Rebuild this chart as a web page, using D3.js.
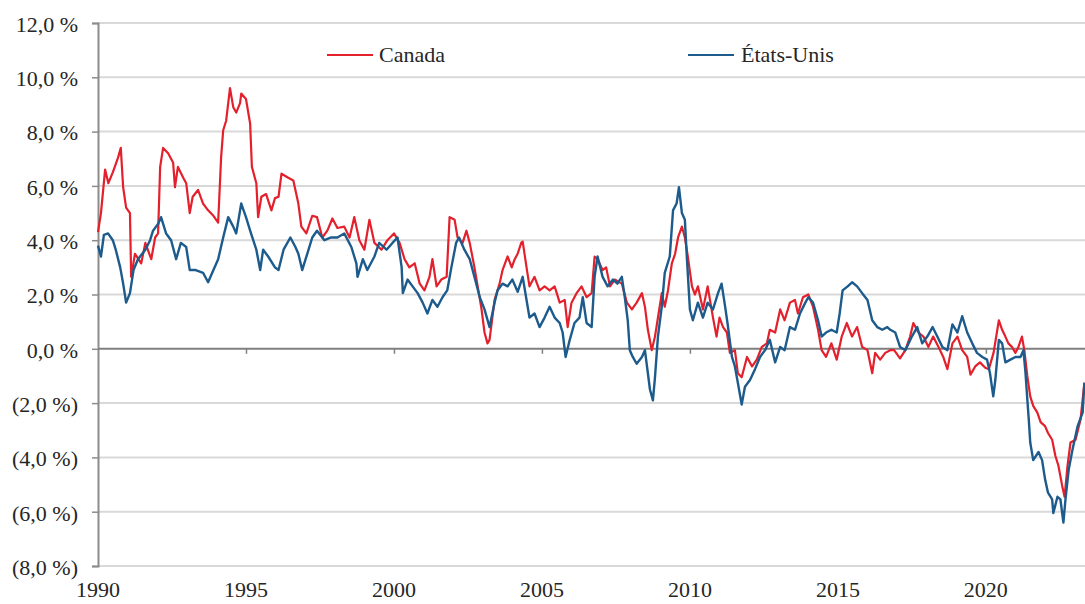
<!DOCTYPE html>
<html>
<head>
<meta charset="utf-8">
<script src="https://cdn.jsdelivr.net/npm/d3@7"></script>
<style>
html,body{margin:0;padding:0;background:#fff;}
svg{display:block;}
</style>
</head>
<body>
<svg id="chart" width="1085" height="604"></svg>
<script>
// ---- Data ----
const seriesNames = ["Canada", "États-Unis"];
const yTickValues = [12, 10, 8, 6, 4, 2, 0, -2, -4, -6, -8];
const xTickValues = [1990, 1995, 2000, 2005, 2010, 2015, 2020];

const canadaDates = [1990.0,1990.1,1990.24,1990.35,1990.5,1990.68,1990.77,1990.85,1990.95,1991.08,1991.12,1991.25,1991.46,1991.6,1991.8,1991.93,1992.03,1992.1,1992.2,1992.37,1992.54,1992.6,1992.7,1992.88,1992.98,1993.1,1993.2,1993.38,1993.55,1993.72,1993.9,1994.06,1994.16,1994.23,1994.33,1994.46,1994.57,1994.67,1994.8,1994.84,1995.0,1995.14,1995.2,1995.35,1995.41,1995.52,1995.68,1995.86,1995.98,1996.1,1996.2,1996.43,1996.6,1996.77,1996.87,1997.04,1997.24,1997.4,1997.58,1997.75,1997.92,1998.09,1998.32,1998.5,1998.66,1998.83,1999.0,1999.17,1999.34,1999.58,1999.78,2000.0,2000.19,2000.36,2000.52,2000.7,2000.87,2001.03,2001.2,2001.3,2001.44,2001.6,2001.78,2001.88,2002.05,2002.15,2002.32,2002.45,2002.56,2002.72,2002.83,2002.96,2003.06,2003.16,2003.23,2003.4,2003.57,2003.67,2003.84,2003.98,2004.08,2004.18,2004.3,2004.35,2004.48,2004.58,2004.75,2004.92,2005.09,2005.26,2005.43,2005.6,2005.77,2005.87,2006.0,2006.17,2006.34,2006.51,2006.68,2006.78,2006.88,2007.05,2007.17,2007.3,2007.46,2007.7,2007.87,2008.04,2008.2,2008.38,2008.48,2008.58,2008.71,2008.82,2008.92,2009.05,2009.15,2009.26,2009.39,2009.5,2009.6,2009.73,2009.83,2009.93,2010.07,2010.17,2010.27,2010.44,2010.6,2010.78,2010.9,2011.0,2011.12,2011.25,2011.35,2011.52,2011.62,2011.75,2011.93,2012.1,2012.26,2012.43,2012.6,2012.7,2012.88,2013.05,2013.2,2013.38,2013.55,2013.65,2013.82,2014.0,2014.16,2014.33,2014.45,2014.6,2014.78,2014.96,2015.13,2015.3,2015.48,2015.65,2015.82,2016.0,2016.16,2016.26,2016.43,2016.6,2016.77,2016.9,2017.1,2017.28,2017.44,2017.55,2017.72,2017.89,2018.06,2018.22,2018.4,2018.56,2018.7,2018.87,2019.04,2019.2,2019.37,2019.48,2019.64,2019.8,2019.98,2020.1,2020.26,2020.44,2020.55,2020.66,2020.76,2020.88,2021.0,2021.1,2021.22,2021.3,2021.4,2021.5,2021.6,2021.74,2021.85,2022.0,2022.1,2022.24,2022.35,2022.45,2022.58,2022.66,2022.76,2022.86,2023.03,2023.2,2023.33];
const canadaValues = [4.3,5.0,6.6,6.1,6.5,7.05,7.4,5.95,5.2,5.0,2.65,3.5,3.15,3.9,3.3,4.1,4.25,6.7,7.4,7.2,6.85,5.95,6.7,6.3,6.1,5.0,5.6,5.85,5.35,5.1,4.9,4.65,7.05,8.05,8.4,9.6,8.9,8.7,9.05,9.4,9.2,8.3,6.7,6.1,4.85,5.6,5.7,5.1,5.55,5.6,6.45,6.3,6.2,5.35,4.5,4.25,4.9,4.85,4.1,4.35,4.8,4.45,4.5,4.1,4.85,4.0,3.65,4.75,3.9,3.65,4.0,4.25,3.9,3.3,3.0,3.15,2.4,2.15,2.65,3.3,2.3,2.55,2.65,4.85,4.75,4.1,3.9,4.35,3.9,3.0,2.3,1.45,0.6,0.2,0.33,1.8,2.4,2.9,3.4,3.0,3.3,3.5,3.9,3.95,3.0,2.3,2.65,2.15,2.3,2.15,2.3,1.7,1.8,0.8,1.7,2.05,2.3,1.9,2.05,3.4,3.3,2.9,3.0,2.3,2.55,2.4,1.7,1.45,1.7,2.05,1.55,0.7,-0.05,0.45,1.15,2.05,1.55,2.15,3.15,3.5,4.1,4.5,4.1,3.4,2.3,2.0,2.3,1.45,2.3,1.15,0.45,1.15,0.8,0.6,-0.15,-0.05,-0.9,-1.05,-0.3,-0.65,-0.4,0.07,0.2,0.7,0.6,1.45,1.05,1.7,1.8,1.3,1.9,2.0,1.55,0.7,-0.05,-0.3,0.2,-0.4,0.45,0.95,0.45,0.8,0.07,-0.05,-0.9,-0.15,-0.4,-0.15,-0.05,-0.05,-0.35,-0.05,0.45,0.95,0.6,0.45,0.07,0.45,0.07,-0.3,-0.75,0.2,0.45,-0.05,-0.3,-0.95,-0.65,-0.5,-0.7,-0.75,-0.15,1.05,0.7,0.45,0.2,0.07,-0.15,0.07,0.45,-0.05,-1.0,-1.75,-2.1,-2.35,-2.7,-2.85,-3.1,-3.35,-3.95,-4.3,-5.05,-5.45,-4.3,-3.45,-3.35,-2.6,-1.25];

const usDates = [1990.0,1990.1,1990.2,1990.34,1990.5,1990.6,1990.75,1990.85,1990.95,1991.08,1991.2,1991.35,1991.6,1991.76,1991.86,1992.03,1992.13,1992.3,1992.47,1992.64,1992.8,1992.98,1993.1,1993.3,1993.55,1993.72,1993.9,1994.06,1994.23,1994.4,1994.57,1994.67,1994.84,1995.0,1995.17,1995.35,1995.48,1995.58,1995.75,1995.98,1996.1,1996.27,1996.5,1996.67,1996.77,1996.9,1997.07,1997.24,1997.4,1997.65,1997.88,1998.09,1998.32,1998.56,1998.73,1998.77,1998.95,1999.1,1999.34,1999.5,1999.75,1999.95,2000.12,2000.26,2000.3,2000.46,2000.63,2000.8,2000.97,2001.13,2001.3,2001.47,2001.64,2001.8,2001.94,2002.1,2002.2,2002.38,2002.56,2002.72,2002.9,2003.06,2003.23,2003.4,2003.5,2003.67,2003.84,2004.0,2004.18,2004.35,2004.48,2004.58,2004.75,2004.92,2005.09,2005.26,2005.43,2005.6,2005.7,2005.8,2005.94,2006.1,2006.27,2006.38,2006.51,2006.68,2006.78,2006.88,2007.05,2007.22,2007.4,2007.55,2007.7,2007.8,2007.9,2007.97,2008.07,2008.2,2008.38,2008.48,2008.58,2008.65,2008.75,2008.82,2008.92,2009.05,2009.15,2009.32,2009.43,2009.55,2009.63,2009.73,2009.83,2009.9,2010.0,2010.1,2010.27,2010.44,2010.6,2010.78,2010.95,2011.07,2011.17,2011.27,2011.42,2011.52,2011.62,2011.75,2011.86,2012.03,2012.2,2012.37,2012.54,2012.7,2012.88,2013.05,2013.2,2013.38,2013.55,2013.72,2013.9,2014.0,2014.16,2014.33,2014.45,2014.6,2014.78,2014.96,2015.06,2015.16,2015.33,2015.48,2015.65,2015.82,2016.0,2016.16,2016.33,2016.5,2016.67,2016.77,2016.94,2017.1,2017.28,2017.5,2017.68,2017.85,2018.02,2018.2,2018.36,2018.53,2018.7,2018.87,2019.04,2019.2,2019.37,2019.54,2019.7,2019.88,2020.04,2020.14,2020.25,2020.32,2020.44,2020.55,2020.66,2020.83,2021.0,2021.17,2021.27,2021.34,2021.4,2021.45,2021.5,2021.6,2021.78,2021.9,2022.0,2022.1,2022.24,2022.28,2022.42,2022.52,2022.62,2022.69,2022.8,2022.93,2023.1,2023.27,2023.33];
const usValues = [3.8,3.4,4.2,4.25,4.0,3.65,3.0,2.4,1.7,2.05,2.9,3.3,3.65,4.0,4.35,4.6,4.85,4.25,4.0,3.3,3.9,3.75,2.9,2.9,2.8,2.45,2.9,3.3,4.1,4.85,4.5,4.25,5.35,4.85,4.25,3.65,2.9,3.65,3.4,3.0,2.9,3.65,4.1,3.75,3.5,2.9,3.5,4.1,4.35,4.0,4.1,4.1,4.25,3.75,3.15,2.65,3.3,2.9,3.4,3.9,3.65,3.9,4.1,3.0,2.05,2.55,2.3,2.05,1.7,1.3,1.8,1.55,1.9,2.15,3.0,3.9,4.1,3.65,3.3,2.65,1.9,1.45,0.8,1.7,2.15,2.4,2.3,2.55,2.1,2.65,1.8,1.15,1.3,0.8,1.15,1.55,1.15,0.95,0.6,-0.3,0.33,0.95,1.15,1.9,0.95,0.8,2.65,3.4,2.65,2.3,2.55,2.4,2.65,1.9,1.05,-0.05,-0.3,-0.55,-0.3,-0.05,-0.9,-1.5,-1.9,-1.05,0.45,1.55,2.8,3.4,5.1,5.35,5.95,5.0,4.75,3.3,1.45,1.05,1.7,1.15,1.7,1.45,2.05,2.4,1.7,0.95,-0.3,-0.65,-1.25,-2.05,-1.4,-1.15,-0.75,-0.3,-0.05,0.33,-0.5,0.07,-0.05,0.8,0.7,1.3,1.7,1.9,1.7,1.05,0.45,0.6,0.7,0.6,1.3,2.15,2.3,2.45,2.3,2.05,1.8,1.05,0.8,0.7,0.8,0.7,0.6,0.07,-0.05,0.45,0.8,0.2,0.45,0.8,0.45,0.07,-0.05,0.9,0.6,1.2,0.6,0.2,-0.15,-0.3,-0.4,-0.9,-1.75,-1.15,0.33,0.2,-0.5,-0.4,-0.3,-0.3,-0.05,-0.9,-1.85,-2.6,-3.45,-4.1,-3.8,-4.1,-4.8,-5.3,-5.55,-6.05,-5.45,-5.55,-6.4,-5.55,-4.45,-3.7,-2.85,-2.35,-1.25];

const seriesColors = ["#e3202b", "#1c5b8c"];

// ---- Chart ----
const FONT = "'Liberation Serif', 'Times New Roman', serif";
const FS = 22;
const svg = d3.select("#chart");
const x = d3.scaleLinear().domain([1990, 2023.35]).range([98, 1085]);
const y = d3.scaleLinear().domain([-8, 12]).range([566, 23]);

const fmt = v => {
  const s = d3.format(".1f")(Math.abs(v)).replace(".", ",") + "\u00a0%";
  return v < 0 ? "(" + s + ")" : s;
};

// gridlines
svg.append("g").selectAll("line").data(yTickValues.filter(v => v !== 0)).join("line")
  .attr("x1", x(1990)).attr("x2", 1085)
  .attr("y1", d => y(d)).attr("y2", d => y(d))
  .attr("stroke", "#d9d9d9").attr("stroke-width", 2);

// y axis
const yAxis = d3.axisLeft(y).tickValues(yTickValues).tickFormat(fmt).tickSize(6).tickPadding(14);
const gy = svg.append("g").attr("transform", `translate(${x(1990)},0)`).call(yAxis);
gy.select(".domain").attr("stroke", "#8c8c8c").attr("stroke-width", 2);
gy.selectAll(".tick line").attr("stroke", "#8c8c8c").attr("stroke-width", 1.5);
gy.selectAll(".tick text").style("font-family", FONT).style("font-size", FS + "px").attr("fill", "#262626").attr("dy", "0.38em");

// x axis on zero line (ticks)
const xAxis = d3.axisBottom(x).tickValues(xTickValues.filter(v => v !== 1990)).tickSize(5).tickFormat("");
const gx = svg.append("g").attr("transform", `translate(0,${y(0)})`).call(xAxis);
gx.select(".domain").remove();
gx.selectAll(".tick line").attr("stroke", "#808080").attr("stroke-width", 1.5);

// zero line
svg.append("line").attr("x1", x(1990)).attr("x2", 1085).attr("y1", y(0)).attr("y2", y(0))
  .attr("stroke", "#7f7f7f").attr("stroke-width", 2);

// x labels at the bottom
svg.append("g").selectAll("text").data(xTickValues).join("text")
  .attr("x", d => x(d)).attr("y", 597)
  .attr("text-anchor", "middle")
  .style("font-family", FONT).style("font-size", FS + "px").attr("fill", "#262626")
  .text(d => d);

// lines
const line = d3.line().x(d => x(d[0])).y(d => y(d[1]));
const canadaData = canadaDates.map((d, i) => [d, canadaValues[i]]);
const usData = usDates.map((d, i) => [d, usValues[i]]);

svg.append("path").datum(canadaData).attr("d", line)
  .attr("fill", "none").attr("stroke", seriesColors[0]).attr("stroke-width", 2.2).attr("stroke-linejoin", "round");
svg.append("path").datum(usData).attr("d", line)
  .attr("fill", "none").attr("stroke", seriesColors[1]).attr("stroke-width", 2.4).attr("stroke-linejoin", "round");

// legend
const legendPos = [{lx: 327, tx: 379}, {lx: 688, tx: 741}];
const lg = svg.append("g").selectAll("g").data(seriesNames).join("g");
lg.append("line")
  .attr("x1", (d, i) => legendPos[i].lx).attr("x2", (d, i) => legendPos[i].lx + 46)
  .attr("y1", 55).attr("y2", 55)
  .attr("stroke", (d, i) => seriesColors[i]).attr("stroke-width", 2);
lg.append("text")
  .attr("x", (d, i) => legendPos[i].tx).attr("y", 62)
  .style("font-family", FONT).style("font-size", FS + "px").attr("fill", "#262626")
  .text(d => d);
</script>
</body>
</html>
